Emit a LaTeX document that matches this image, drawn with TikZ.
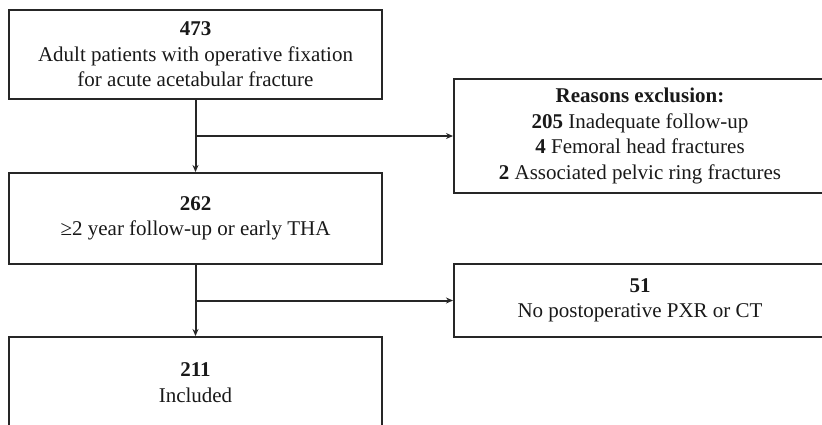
\documentclass[tikz,border=0pt]{standalone}
\usepackage{fontspec}
\setmainfont{Liberation Serif}
\usepackage{tikz}
\usetikzlibrary{arrows.meta,positioning}
\tikzset{>={Stealth[length=7pt,width=6pt]}}

\begin{document}
\begin{tikzpicture}[x=1pt,y=-1pt,
                    flowbox/.style={draw=black!85, line width=2pt, align=center, inner sep=0pt,
                                    text=black!90, font=\fontsize{21}{25.5}\selectfont},
                    mainbox/.style={flowbox, minimum width=373pt},
                    sidebox/.style={flowbox, minimum width=372pt},
                    flow/.style={line width=2pt, black!85},
                   ]

\useasboundingbox (0,0) rectangle (822,424);
\clip (0,0) rectangle (822,424);

\node[mainbox, minimum height=89pt] (total) at (195.5,54.5)
  {\textbf{473}\\Adult patients with operative fixation\\for acute acetabular fracture};
\node[mainbox, minimum height=91pt] (followup) at (195.5,218.5)
  {\textbf{262}\\≥2 year follow-up or early THA};
\node[mainbox, minimum height=91pt] (included) at (195.5,382.5)
  {\textbf{211}\\Included};

\node[sidebox, minimum height=114pt] (reasons) at (640,136)
  {\textbf{Reasons exclusion:}\\\textbf{205} Inadequate follow-up\\\textbf{4} Femoral head fractures\\\textbf{2} Associated pelvic ring fractures};
\node[sidebox, minimum height=73pt] (noimaging) at (640,300.5)
  {\textbf{51}\\No postoperative PXR or CT};

\coordinate (split1) at (total.south |- reasons.west);
\coordinate (split2) at (followup.south |- noimaging.west);

\draw[flow,->] (total.south) -- (followup.north);
\draw[flow,->] (split1) -- (reasons.west);
\draw[flow,->] (followup.south) -- (included.north);
\draw[flow,->] (split2) -- (noimaging.west);

\end{tikzpicture}
\end{document}
